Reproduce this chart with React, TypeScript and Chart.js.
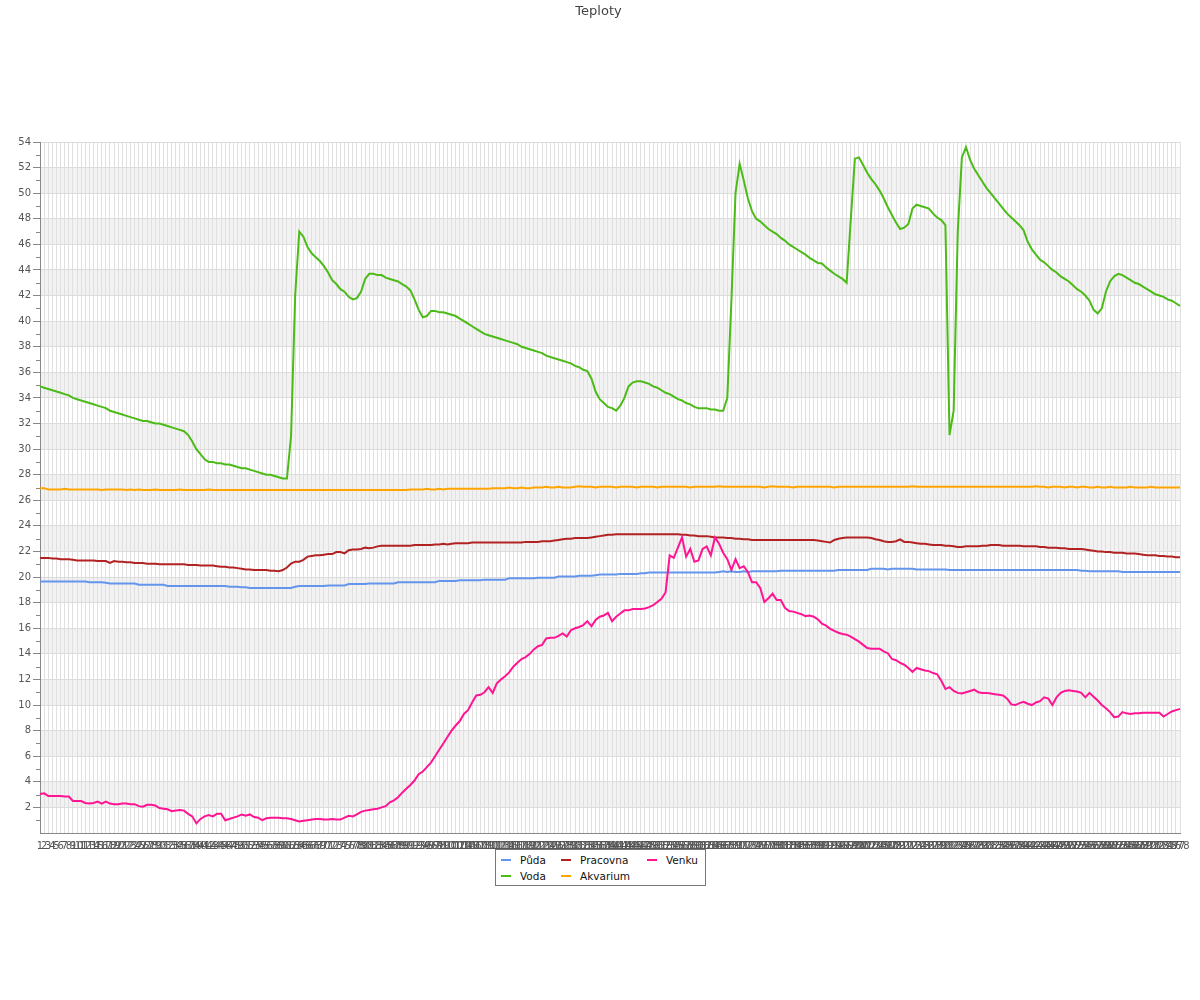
import React, { useEffect, useRef } from 'react';
import { Chart, registerables } from 'chart.js';

Chart.register(...registerables);

const chartTitle = 'Teploty';
const seriesNames = ['Půda', 'Voda', 'Pracovna', 'Akvarium', 'Venku'];
const seriesColors = ['#6495ED', '#4CBB17', '#B22222', '#FFA500', '#FF1493'];

const puda = [
  19.65, 19.65, 19.65, 19.65, 19.65, 19.65, 19.65, 19.65, 19.65, 19.65,
  19.65, 19.65, 19.6, 19.6, 19.6, 19.6, 19.55, 19.5, 19.5, 19.5,
  19.5, 19.5, 19.5, 19.5, 19.4, 19.4, 19.4, 19.4, 19.4, 19.4,
  19.4, 19.3, 19.3, 19.3, 19.3, 19.3, 19.3, 19.3, 19.3, 19.3,
  19.3, 19.3, 19.3, 19.3, 19.3, 19.3, 19.25, 19.25, 19.25, 19.2,
  19.2, 19.15, 19.15, 19.15, 19.15, 19.15, 19.15, 19.15, 19.15, 19.15,
  19.15, 19.15, 19.25, 19.3, 19.3, 19.3, 19.3, 19.3, 19.3, 19.3,
  19.35, 19.35, 19.35, 19.35, 19.35, 19.45, 19.45, 19.45, 19.45, 19.45,
  19.5, 19.5, 19.5, 19.5, 19.5, 19.5, 19.5, 19.6, 19.6, 19.6,
  19.6, 19.6, 19.6, 19.6, 19.6, 19.6, 19.6, 19.7, 19.7, 19.7,
  19.7, 19.7, 19.75, 19.75, 19.75, 19.75, 19.75, 19.75, 19.8, 19.8,
  19.8, 19.8, 19.8, 19.8, 19.9, 19.9, 19.9, 19.9, 19.9, 19.9,
  19.9, 19.95, 19.95, 19.95, 19.95, 19.95, 20.05, 20.05, 20.05, 20.05,
  20.05, 20.1, 20.1, 20.1, 20.1, 20.15, 20.2, 20.2, 20.2, 20.2,
  20.2, 20.25, 20.25, 20.25, 20.25, 20.25, 20.3, 20.3, 20.35, 20.35,
  20.35, 20.35, 20.35, 20.35, 20.35, 20.35, 20.35, 20.35, 20.35, 20.35,
  20.35, 20.35, 20.35, 20.35, 20.35, 20.4, 20.45, 20.4, 20.45, 20.4,
  20.4, 20.45, 20.4, 20.45, 20.45, 20.45, 20.45, 20.45, 20.45, 20.45,
  20.5, 20.5, 20.5, 20.5, 20.5, 20.5, 20.5, 20.5, 20.5, 20.5,
  20.5, 20.5, 20.5, 20.5, 20.55, 20.55, 20.55, 20.55, 20.55, 20.55,
  20.55, 20.55, 20.65, 20.65, 20.65, 20.65, 20.6, 20.65, 20.65, 20.65,
  20.65, 20.65, 20.65, 20.6, 20.6, 20.6, 20.6, 20.6, 20.6, 20.6,
  20.6, 20.55, 20.55, 20.55, 20.55, 20.55, 20.55, 20.55, 20.55, 20.55,
  20.55, 20.55, 20.55, 20.55, 20.55, 20.55, 20.55, 20.55, 20.55, 20.55,
  20.55, 20.55, 20.55, 20.55, 20.55, 20.55, 20.55, 20.55, 20.55, 20.55,
  20.55, 20.55, 20.55, 20.5, 20.5, 20.45, 20.45, 20.45, 20.45, 20.45,
  20.45, 20.45, 20.45, 20.4, 20.4, 20.4, 20.4, 20.4, 20.4, 20.4,
  20.4, 20.4, 20.4, 20.4, 20.4, 20.4, 20.4, 20.4,
];

const voda = [
  34.9, 34.8, 34.7, 34.6, 34.5, 34.4, 34.3, 34.2, 34.0, 33.9,
  33.8, 33.7, 33.6, 33.5, 33.4, 33.3, 33.2, 33.0, 32.9, 32.8,
  32.7, 32.6, 32.5, 32.4, 32.3, 32.2, 32.2, 32.1, 32.0, 32.0,
  31.9, 31.8, 31.7, 31.6, 31.5, 31.4, 31.1, 30.6, 30.0, 29.6,
  29.2, 29.0, 29.0, 28.9, 28.9, 28.8, 28.8, 28.7, 28.6, 28.5,
  28.5, 28.4, 28.3, 28.2, 28.1, 28.0, 28.0, 27.9, 27.8, 27.7,
  27.7, 31.0, 42.0, 47.0, 46.6, 45.8, 45.3, 45.0, 44.7, 44.3,
  43.8, 43.2, 42.9, 42.5, 42.3, 41.9, 41.7, 41.8, 42.3, 43.3,
  43.7, 43.7, 43.6, 43.6, 43.4, 43.3, 43.2, 43.1, 42.9, 42.7,
  42.4, 41.7, 40.9, 40.3, 40.4, 40.8, 40.8, 40.7, 40.7, 40.6,
  40.5, 40.4, 40.2, 40.0, 39.8, 39.6, 39.4, 39.2, 39.0, 38.9,
  38.8, 38.7, 38.6, 38.5, 38.4, 38.3, 38.2, 38.0, 37.9, 37.8,
  37.7, 37.6, 37.5, 37.3, 37.2, 37.1, 37.0, 36.9, 36.8, 36.7,
  36.5, 36.4, 36.2, 36.1, 35.5, 34.5, 33.9, 33.6, 33.3, 33.2,
  33.0, 33.4, 34.0, 34.9, 35.2, 35.3, 35.3, 35.2, 35.1, 34.9,
  34.8, 34.6, 34.4, 34.3, 34.1, 33.9, 33.8, 33.6, 33.5, 33.3,
  33.2, 33.2, 33.2, 33.1, 33.1, 33.0, 33.0, 34.0, 41.6, 50.0,
  52.3, 51.0, 49.6, 48.6, 48.0, 47.8, 47.5, 47.2, 47.0, 46.8,
  46.5, 46.3, 46.0, 45.8, 45.6, 45.4, 45.2, 44.95, 44.75, 44.55,
  44.5, 44.2, 43.95, 43.7, 43.5, 43.3, 43.0, 47.9, 52.7, 52.8,
  52.2, 51.6, 51.1, 50.7, 50.2, 49.6, 48.9, 48.3, 47.7, 47.2,
  47.3, 47.6, 48.8, 49.1, 49.0, 48.9, 48.8, 48.4, 48.1, 47.9,
  47.5, 31.1, 33.0, 47.0, 52.8, 53.6, 52.6, 51.9, 51.4, 50.9,
  50.4, 50.0, 49.6, 49.2, 48.8, 48.4, 48.1, 47.8, 47.5, 47.1,
  46.2, 45.6, 45.2, 44.8, 44.6, 44.3, 44.0, 43.8, 43.5, 43.3,
  43.1, 42.8, 42.5, 42.3, 42.0, 41.6, 40.9, 40.6, 41.0, 42.3,
  43.1, 43.5, 43.7, 43.6, 43.4, 43.2, 43.0, 42.9, 42.7, 42.5,
  42.3, 42.1, 42.0, 41.9, 41.7, 41.6, 41.4, 41.2,
];

const pracovna = [
  21.5, 21.5, 21.5, 21.45, 21.45, 21.4, 21.4, 21.4, 21.35, 21.3,
  21.3, 21.3, 21.3, 21.3, 21.25, 21.25, 21.25, 21.1, 21.25, 21.2,
  21.2, 21.15, 21.15, 21.1, 21.1, 21.1, 21.05, 21.05, 21.05, 21.0,
  21.0, 21.0, 21.0, 21.0, 21.0, 21.0, 20.95, 20.95, 20.95, 20.9,
  20.9, 20.9, 20.9, 20.85, 20.8, 20.8, 20.75, 20.75, 20.7, 20.65,
  20.6, 20.6, 20.55, 20.55, 20.55, 20.55, 20.5, 20.5, 20.45, 20.55,
  20.75, 21.05, 21.2, 21.2, 21.35, 21.6, 21.65, 21.7, 21.7, 21.75,
  21.8, 21.8, 21.95, 21.95, 21.85, 22.1, 22.15, 22.15, 22.2, 22.3,
  22.25, 22.3, 22.4, 22.45, 22.45, 22.45, 22.45, 22.45, 22.45, 22.45,
  22.45, 22.5, 22.5, 22.5, 22.5, 22.5, 22.55, 22.55, 22.6, 22.55,
  22.6, 22.65, 22.65, 22.65, 22.65, 22.7, 22.7, 22.7, 22.7, 22.7,
  22.7, 22.7, 22.7, 22.7, 22.7, 22.7, 22.7, 22.7, 22.75, 22.75,
  22.75, 22.75, 22.8, 22.8, 22.8, 22.85, 22.9, 22.95, 23.0, 23.0,
  23.05, 23.05, 23.05, 23.05, 23.1, 23.15, 23.2, 23.25, 23.3, 23.3,
  23.35, 23.35, 23.35, 23.35, 23.35, 23.35, 23.35, 23.35, 23.35, 23.35,
  23.35, 23.35, 23.35, 23.35, 23.35, 23.35, 23.3, 23.3, 23.25, 23.25,
  23.2, 23.2, 23.2, 23.15, 23.1, 23.1, 23.1, 23.05, 23.05, 23.0,
  23.0, 22.95, 22.95, 22.9, 22.9, 22.9, 22.9, 22.9, 22.9, 22.9,
  22.9, 22.9, 22.9, 22.9, 22.9, 22.9, 22.9, 22.9, 22.9, 22.85,
  22.8, 22.75, 22.7, 22.9, 23.0, 23.05, 23.1, 23.1, 23.1, 23.1,
  23.1, 23.1, 23.05, 22.95, 22.9, 22.8, 22.75, 22.75, 22.8, 22.95,
  22.75, 22.75, 22.7, 22.65, 22.6, 22.6, 22.55, 22.5, 22.5, 22.5,
  22.45, 22.45, 22.4, 22.35, 22.35, 22.4, 22.4, 22.4, 22.4, 22.45,
  22.45, 22.5, 22.5, 22.5, 22.45, 22.45, 22.45, 22.45, 22.45, 22.4,
  22.4, 22.4, 22.4, 22.35, 22.35, 22.3, 22.3, 22.3, 22.25, 22.25,
  22.2, 22.2, 22.2, 22.2, 22.15, 22.1, 22.05, 22.0, 22.0, 21.95,
  21.95, 21.9, 21.9, 21.9, 21.85, 21.85, 21.85, 21.8, 21.75, 21.7,
  21.7, 21.7, 21.65, 21.65, 21.6, 21.6, 21.55, 21.55,
];

const akvarium = [
  26.95, 26.95, 26.85, 26.85, 26.85, 26.85, 26.9, 26.85, 26.85, 26.85,
  26.85, 26.85, 26.85, 26.85, 26.85, 26.8, 26.85, 26.85, 26.85, 26.85,
  26.85, 26.8, 26.85, 26.8, 26.85, 26.8, 26.8, 26.8, 26.85, 26.8,
  26.8, 26.8, 26.8, 26.8, 26.85, 26.8, 26.8, 26.8, 26.8, 26.8,
  26.8, 26.85, 26.8, 26.8, 26.8, 26.8, 26.8, 26.8, 26.8, 26.8,
  26.8, 26.8, 26.8, 26.8, 26.8, 26.8, 26.8, 26.8, 26.8, 26.8,
  26.8, 26.8, 26.8, 26.8, 26.8, 26.8, 26.8, 26.8, 26.8, 26.8,
  26.8, 26.8, 26.8, 26.8, 26.8, 26.8, 26.8, 26.8, 26.8, 26.8,
  26.8, 26.8, 26.8, 26.8, 26.8, 26.8, 26.8, 26.8, 26.8, 26.8,
  26.85, 26.85, 26.85, 26.85, 26.9, 26.85, 26.85, 26.9, 26.85, 26.9,
  26.9, 26.9, 26.9, 26.9, 26.9, 26.9, 26.9, 26.9, 26.9, 26.9,
  26.95, 26.95, 26.95, 26.95, 27.0, 26.95, 26.95, 27.0, 26.95, 26.95,
  27.0, 27.0, 27.0, 27.05, 27.0, 27.0, 27.05, 27.0, 27.0, 27.0,
  27.05, 27.1, 27.05, 27.05, 27.05, 27.0, 27.05, 27.05, 27.05, 27.05,
  27.0, 27.05, 27.05, 27.05, 27.05, 27.0, 27.05, 27.05, 27.05, 27.05,
  27.0, 27.05, 27.05, 27.05, 27.05, 27.05, 27.05, 27.05, 27.0, 27.05,
  27.05, 27.05, 27.05, 27.05, 27.05, 27.1, 27.05, 27.05, 27.05, 27.05,
  27.05, 27.05, 27.05, 27.05, 27.05, 27.05, 27.0, 27.05, 27.1, 27.05,
  27.05, 27.05, 27.05, 27.0, 27.05, 27.05, 27.05, 27.05, 27.05, 27.05,
  27.05, 27.05, 27.05, 27.0, 27.05, 27.05, 27.05, 27.05, 27.05, 27.05,
  27.05, 27.05, 27.05, 27.05, 27.05, 27.05, 27.05, 27.05, 27.05, 27.05,
  27.05, 27.05, 27.1, 27.05, 27.05, 27.05, 27.05, 27.05, 27.05, 27.05,
  27.05, 27.05, 27.05, 27.05, 27.05, 27.05, 27.05, 27.05, 27.05, 27.05,
  27.05, 27.05, 27.05, 27.05, 27.05, 27.05, 27.05, 27.05, 27.05, 27.05,
  27.05, 27.05, 27.1, 27.05, 27.05, 27.0, 27.05, 27.05, 27.05, 27.0,
  27.05, 27.05, 27.0, 27.05, 27.05, 27.0, 27.0, 27.05, 27.0, 27.0,
  27.05, 27.0, 27.0, 27.0, 27.0, 27.05, 27.0, 27.0, 27.0, 27.0,
  27.05, 27.0, 27.0, 27.0, 27.0, 27.0, 27.0, 27.0,
];

const venku = [
  3.05, 3.1, 2.9, 2.9, 2.9, 2.9, 2.85, 2.85, 2.5, 2.5,
  2.5, 2.35, 2.3, 2.35, 2.45, 2.3, 2.45, 2.3, 2.25, 2.25,
  2.3, 2.3, 2.25, 2.25, 2.1, 2.05, 2.2, 2.2, 2.15, 1.95,
  1.9, 1.85, 1.7, 1.75, 1.8, 1.75, 1.5, 1.3, 0.75, 1.1,
  1.3, 1.4, 1.3, 1.5, 1.5, 1.0, 1.1, 1.2, 1.3, 1.45,
  1.35, 1.45, 1.25, 1.2, 1.0, 1.15, 1.2, 1.2, 1.2, 1.15,
  1.15, 1.1, 1.0, 0.9, 0.95, 1.0, 1.05, 1.1, 1.1, 1.05,
  1.05, 1.1, 1.05, 1.05, 1.2, 1.35, 1.3, 1.45, 1.65, 1.75,
  1.8, 1.85, 1.9, 2.0, 2.1, 2.4, 2.55, 2.8, 3.15, 3.45,
  3.75, 4.1, 4.6, 4.8, 5.15, 5.5, 6.0, 6.5, 7.0, 7.5,
  8.0, 8.4, 8.75, 9.3, 9.6, 10.2, 10.75, 10.8, 11.0, 11.4,
  10.95, 11.7, 12.0, 12.25, 12.55, 13.0, 13.3, 13.6, 13.75, 14.0,
  14.35, 14.6, 14.7, 15.2, 15.25, 15.25, 15.4, 15.6, 15.35, 15.85,
  16.0, 16.1, 16.25, 16.55, 16.15, 16.65, 16.9, 17.0, 17.2, 16.55,
  16.9, 17.15, 17.4, 17.4, 17.5, 17.5, 17.5, 17.55, 17.65, 17.8,
  18.05, 18.3, 18.8, 21.7, 21.5, 22.3, 23.1, 21.6, 22.2, 21.2,
  21.3, 22.2, 22.4, 21.7, 23.1, 22.6, 21.9, 21.4, 20.55, 21.4,
  20.7, 20.85, 20.4, 19.6, 19.6, 19.15, 18.05, 18.35, 18.7, 18.2,
  18.2, 17.6, 17.35, 17.3, 17.2, 17.1, 16.95, 17.0, 16.9, 16.7,
  16.35, 16.2, 15.95, 15.8, 15.65, 15.55, 15.5, 15.35, 15.15, 14.95,
  14.7, 14.45, 14.4, 14.4, 14.4, 14.2, 14.05, 13.6, 13.5, 13.3,
  13.15, 12.9, 12.6, 12.9, 12.8, 12.7, 12.65, 12.5, 12.4, 11.9,
  11.25, 11.4, 11.1, 10.95, 10.9, 11.0, 11.1, 11.2, 11.0, 10.95,
  10.95, 10.9, 10.85, 10.8, 10.75, 10.5, 10.05, 10.0, 10.15, 10.25,
  10.1, 10.0, 10.2, 10.3, 10.6, 10.5, 10.0, 10.6, 10.95, 11.1,
  11.15, 11.1, 11.05, 10.95, 10.6, 10.95, 10.65, 10.35, 10.0, 9.75,
  9.45, 9.05, 9.1, 9.45, 9.35, 9.3, 9.35, 9.35, 9.4, 9.4,
  9.4, 9.4, 9.4, 9.1, 9.3, 9.5, 9.6, 9.7,
];

const seriesValues = [puda, voda, pracovna, akvarium, venku];
const categories = puda.map((_, i) => String(i + 1));
const yMin = 0;
const yMax = 54;
const shadedBandStarts = [2, 6, 10, 14, 18, 22, 26, 30, 34, 38, 42, 46, 50];

const FONT = '"DejaVu Sans", sans-serif';

const bandsPlugin = {
  id: 'bands',
  beforeDraw(chart: any) {
    const { ctx, chartArea, scales } = chart;
    const y = scales.y;
    ctx.save();
    ctx.fillStyle = '#f2f2f2';
    for (const b of shadedBandStarts) {
      const top = y.getPixelForValue(b + 2);
      const bottom = y.getPixelForValue(b);
      ctx.fillRect(chartArea.left, top, chartArea.right - chartArea.left, bottom - top);
    }
    ctx.restore();
  },
};

const minorTicksPlugin = {
  id: 'minorTicks',
  afterDraw(chart: any) {
    const { ctx, chartArea, scales } = chart;
    const y = scales.y;
    ctx.save();
    ctx.strokeStyle = '#888888';
    ctx.lineWidth = 1;
    ctx.beginPath();
    for (let v = yMin + 1; v < yMax; v += 2) {
      const py = Math.round(y.getPixelForValue(v)) + 0.5;
      ctx.moveTo(chartArea.left - 4, py);
      ctx.lineTo(chartArea.left, py);
    }
    ctx.stroke();
    ctx.restore();
  },
};

const legendRows = [
  [0, 2, 4],
  [1, 3],
];
const legendColX = [5, 65, 151];

function Legend() {
  return (
    <div
      style={{
        position: 'absolute',
        left: 495,
        top: 849,
        width: 209,
        height: 35,
        border: '1px solid #777',
        background: '#fff',
        fontFamily: FONT,
        fontSize: 10.5,
        color: '#111',
      }}
    >
      {legendRows.map((row, r) =>
        row.map((si, c) => (
          <React.Fragment key={si}>
            <div
              style={{
                position: 'absolute',
                left: legendColX[c],
                top: (r === 0 ? 10 : 26) - 1,
                width: 10,
                height: 2,
                background: seriesColors[si],
              }}
            />
            <div
              style={{
                position: 'absolute',
                left: legendColX[c] + 19,
                top: (r === 0 ? 10 : 26) - 7,
                lineHeight: '14px',
                whiteSpace: 'nowrap',
              }}
            >
              {seriesNames[si]}
            </div>
          </React.Fragment>
        ))
      )}
    </div>
  );
}

export default function App() {
  const ref = useRef<HTMLCanvasElement | null>(null);
  useEffect(() => {
    if (!ref.current) return;
    Chart.defaults.font.family = FONT;
    const chart = new Chart(ref.current, {
      type: 'line',
      data: {
        labels: categories,
        datasets: seriesValues.map((vals, i) => ({
          label: seriesNames[i],
          data: vals,
          borderColor: seriesColors[i],
          backgroundColor: seriesColors[i],
          borderWidth: 2,
          pointRadius: 0,
          pointHoverRadius: 0,
          tension: 0,
          fill: false,
          order: i === 4 ? -1 : i,
        })),
      },
      options: {
        animation: false,
        responsive: false,
        devicePixelRatio: 1,
        events: [],
        layout: { padding: { left: 0, right: 20, top: 142, bottom: 137 } },
        plugins: {
          legend: { display: false },
          tooltip: { enabled: false },
          title: { display: false },
        },
        scales: {
          x: {
            type: 'category',
            offset: false,
            ticks: {
              autoSkip: false,
              maxRotation: 0,
              minRotation: 0,
              padding: 7,
              color: '#555',
              font: { size: 10, family: FONT },
            },
            grid: { color: '#e0e0e0', drawTicks: false },
            border: { color: '#888' },
            afterFit: (s: any) => {
              s.height = 30;
            },
          },
          y: {
            min: yMin,
            max: yMax,
            ticks: {
              stepSize: 1,
              autoSkip: false,
              padding: 2,
              color: '#555',
              font: { size: 10, family: FONT },
              callback: (v: any) => (v % 2 === 0 && v > 0 ? String(v) : ''),
            },
            grid: {
              color: (c: any) => (c.tick && c.tick.value % 2 === 0 ? '#dcdcdc' : 'rgba(0,0,0,0)'),
              tickColor: (c: any) =>
                c.tick && c.tick.value % 2 === 0 && c.tick.value > 0 ? '#888' : 'rgba(0,0,0,0)',
              tickLength: 7,
            },
            border: { color: '#888' },
            afterFit: (s: any) => {
              s.width = 40;
            },
          },
        },
      },
      plugins: [bandsPlugin, minorTicksPlugin],
    } as any);
    return () => chart.destroy();
  }, []);

  return (
    <div style={{ position: 'absolute', left: 0, top: 0, width: 1200, height: 1000 }}>
      <canvas ref={ref} width={1200} height={1000} style={{ display: 'block' }} />
      <div
        style={{
          position: 'absolute',
          left: 0,
          top: 3,
          width: 1197,
          textAlign: 'center',
          fontFamily: FONT,
          fontSize: 13,
          lineHeight: '16px',
          color: '#444',
        }}
      >
        {chartTitle}
      </div>
      <Legend />
    </div>
  );
}
